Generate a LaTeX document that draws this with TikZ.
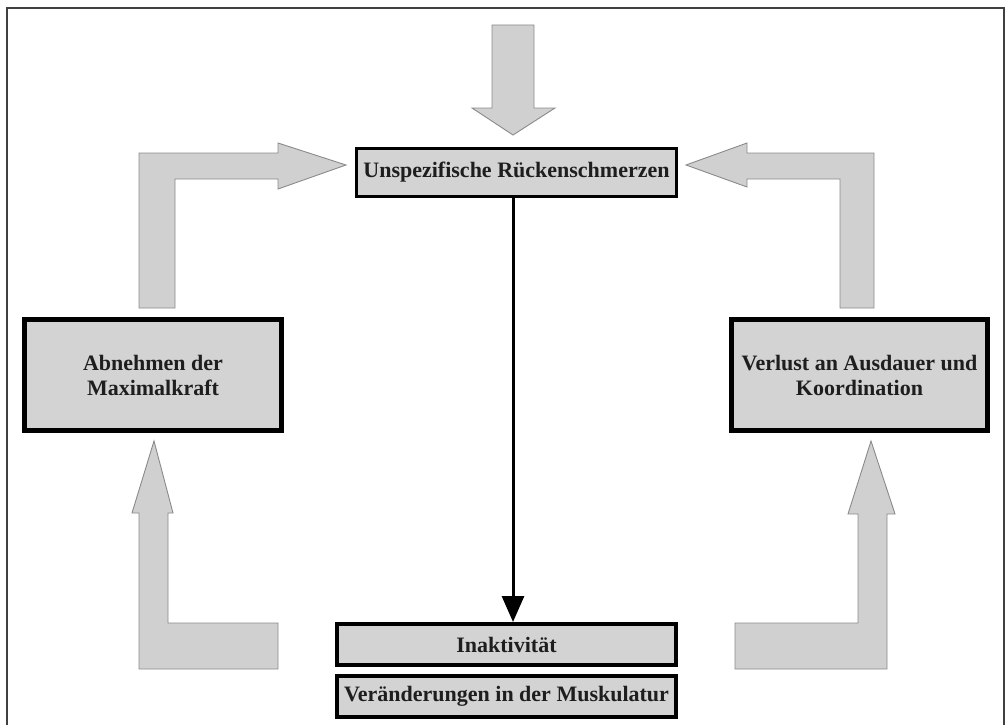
\documentclass[tikz,border=0pt]{standalone}
\usepackage{fontspec}
\setmainfont{Liberation Serif}
\usetikzlibrary{arrows.meta}
\definecolor{boxgray}{HTML}{D3D3D3}
\definecolor{arrowgray}{HTML}{D0D0D0}
\definecolor{edgegray}{HTML}{8A8A8A}
\definecolor{inkdark}{HTML}{1E1E1E}
\tikzset{
  block/.style={draw=black, fill=boxgray, text=inkdark, align=center,
    font=\bfseries\fontsize{22}{25}\selectfont, inner sep=0pt},
  thinblock/.style={block, line width=3pt},
  thickblock/.style={block, line width=5pt},
  bigarrow/.style={fill=arrowgray, draw=edgegray, line width=0.9pt, line join=miter},
  flow/.style={line width=3pt, -{Triangle[length=26pt,width=22pt]}},
  frameline/.style={draw=black!75, line width=1.6pt}
}
\begin{document}
\begin{tikzpicture}[x=1pt,y=-1pt]
\useasboundingbox (0,0) rectangle (1006,725);

% open frame: left, top and right sides
\draw[frameline] (7,725) -- (7,8) -- (1004,8) -- (1004,725);

% boxes
\node[thinblock, minimum width=320pt, minimum height=48pt] (pain) at (516.5,172.5)
  {Unspezifische Rückenschmerzen};
\node[thickblock, minimum width=257pt, minimum height=111pt] (force) at (153,375)
  {Abnehmen der\\Maximalkraft};
\node[thickblock, minimum width=256pt, minimum height=111pt] (endur) at (859.5,375)
  {Verlust an Ausdauer und\\Koordination};
\node[block, line width=4pt, minimum width=339pt, minimum height=41pt] (inact) at (506.5,644.5)
  {Inaktivität};
\node[block, line width=4pt, minimum width=339pt, minimum height=41pt] (muscle) at (506.5,696)
  {Veränderungen in der Muskulatur};

% central connector
\coordinate (axis) at (513,0);
\draw[flow] (pain.south -| axis) -- (inact.north -| axis);

% block arrows
\path[bigarrow] (492,25) -- (534,25) -- (534,108) -- (555,108) -- (513,135)
  -- (472,108) -- (492,108) -- cycle;
\path[bigarrow] (139,308) -- (139,153) -- (278,153) -- (278,143) -- (346,165)
  -- (278,189) -- (278,179) -- (175,179) -- (175,308) -- cycle;
\path[bigarrow] (874,308) -- (874,153) -- (747,153) -- (747,143) -- (686,165)
  -- (747,187) -- (747,179) -- (840,179) -- (840,308) -- cycle;
\path[bigarrow] (278,623) -- (168,623) -- (168,513) -- (173,513) -- (154,441)
  -- (132,513) -- (139,513) -- (139,669) -- (278,669) -- cycle;
\path[bigarrow] (735,623) -- (858,623) -- (858,514) -- (848,514) -- (871,441)
  -- (895,514) -- (887,514) -- (887,669) -- (735,669) -- cycle;
\end{tikzpicture}
\end{document}
